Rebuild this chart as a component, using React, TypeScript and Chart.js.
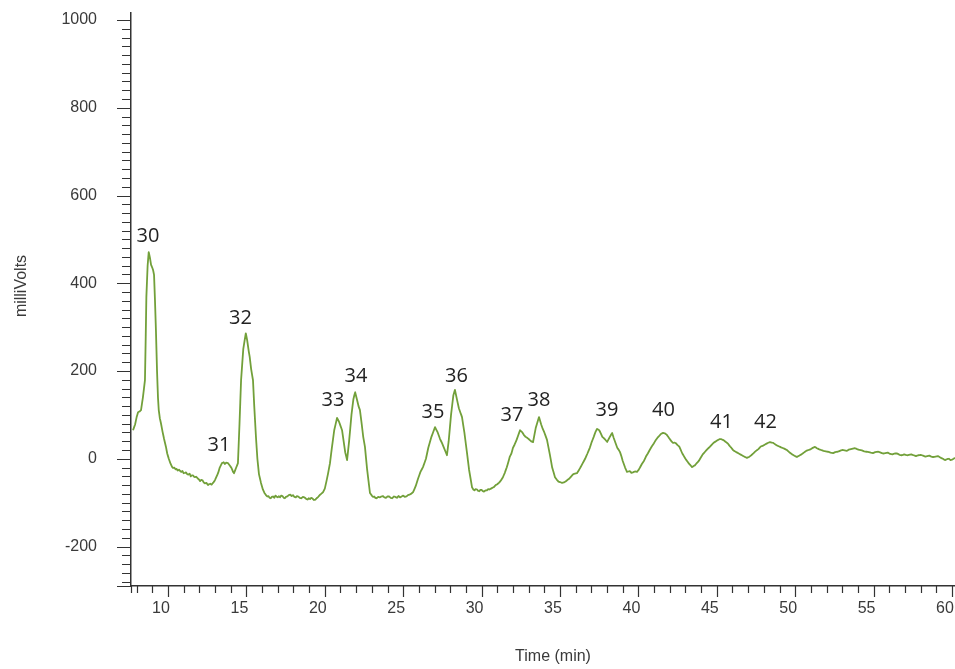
import React, { useEffect, useRef } from "react";
import { Chart, registerables } from "chart.js";

Chart.register(...registerables);

// Retention time (min)
const times: number[] = [
  7.77, 7.9, 8.0, 8.09, 8.2, 8.28, 8.4, 8.53, 8.58, 8.62,
  8.7, 8.77, 8.85, 8.92, 8.98, 9.05, 9.11, 9.17, 9.23, 9.3,
  9.36, 9.41, 9.48, 9.55, 9.65, 9.75, 9.87, 9.95, 10.05, 10.15,
  10.25, 10.32, 10.4, 10.48, 10.55, 10.62, 10.7, 10.78, 10.85, 10.92,
  11.0, 11.08, 11.15, 11.22, 11.3, 11.38, 11.45, 11.52, 11.6, 11.66,
  11.72, 11.8, 11.9, 11.97, 12.05, 12.12, 12.2, 12.28, 12.35, 12.45,
  12.55, 12.62, 12.7, 12.78, 12.87, 12.94, 13.0, 13.1, 13.19, 13.3,
  13.44, 13.55, 13.63, 13.7, 13.83, 13.95, 14.05, 14.15, 14.21, 14.35,
  14.46, 14.56, 14.66, 14.8, 14.96, 15.05, 15.15, 15.21, 15.3, 15.42,
  15.5, 15.61, 15.7, 15.8, 15.93, 16.05, 16.15, 16.25, 16.33, 16.4,
  16.48, 16.55, 16.62, 16.7, 16.78, 16.85, 16.92, 17.0, 17.07, 17.14,
  17.22, 17.3, 17.38, 17.45, 17.52, 17.6, 17.7, 17.8, 17.88, 17.97,
  18.06, 18.15, 18.22, 18.3, 18.4, 18.5, 18.6, 18.7, 18.8, 18.9,
  18.98, 19.06, 19.13, 19.2, 19.3, 19.4, 19.48, 19.55, 19.62, 19.7,
  19.8, 19.89, 20.0, 20.1, 20.2, 20.33, 20.45, 20.6, 20.78, 20.9,
  21.0, 21.1, 21.2, 21.3, 21.42, 21.55, 21.7, 21.82, 21.93, 22.05,
  22.15, 22.24, 22.35, 22.45, 22.56, 22.7, 22.88, 23.0, 23.08, 23.15,
  23.22, 23.3, 23.4, 23.52, 23.6, 23.7, 23.8, 23.9, 24.0, 24.1,
  24.2, 24.3, 24.4, 24.5, 24.6, 24.7, 24.8, 24.9, 25.0, 25.1,
  25.2, 25.3, 25.4, 25.5, 25.63, 25.8, 25.95, 26.1, 26.26, 26.45,
  26.6, 26.8, 27.03, 27.2, 27.35, 27.47, 27.6, 27.79, 27.9, 28.05,
  28.2, 28.3, 28.4, 28.55, 28.65, 28.75, 28.9, 29.07, 29.2, 29.39,
  29.47, 29.55, 29.62, 29.7, 29.78, 29.85, 29.92, 30.0, 30.08, 30.15,
  30.25, 30.34, 30.42, 30.5, 30.6, 30.7, 30.8, 30.9, 31.0, 31.1,
  31.22, 31.36, 31.48, 31.6, 31.7, 31.8, 31.9, 32.0, 32.1, 32.2,
  32.32, 32.45, 32.6, 32.7, 32.8, 32.9, 33.0, 33.15, 33.28, 33.45,
  33.66, 33.8, 33.9, 34.0, 34.17, 34.35, 34.5, 34.68, 34.8, 34.9,
  35.0, 35.13, 35.25, 35.35, 35.48, 35.6, 35.72, 35.85, 35.95, 36.08,
  36.2, 36.3, 36.45, 36.6, 36.75, 36.9, 37.02, 37.15, 37.25, 37.36,
  37.5, 37.6, 37.7, 37.85, 38.0, 38.15, 38.32, 38.42, 38.5, 38.65,
  38.75, 38.83, 38.92, 39.0, 39.15, 39.27, 39.36, 39.45, 39.55, 39.65,
  39.78, 39.91, 40.0, 40.1, 40.22, 40.35, 40.48, 40.6, 40.72, 40.85,
  40.98, 41.1, 41.22, 41.35, 41.45, 41.57, 41.68, 41.8, 41.9, 42.0,
  42.1, 42.21, 42.3, 42.4, 42.5, 42.6, 42.7, 42.8, 42.9, 43.0,
  43.1, 43.2, 43.3, 43.42, 43.5, 43.6, 43.72, 43.85, 43.98, 44.1,
  44.25, 44.4, 44.55, 44.7, 44.82, 44.95, 45.08, 45.2, 45.32, 45.45,
  45.58, 45.7, 45.78, 45.85, 45.95, 46.03, 46.15, 46.3, 46.45, 46.6,
  46.75, 46.92, 47.05, 47.2, 47.35, 47.5, 47.65, 47.8, 47.95, 48.1,
  48.25, 48.39, 48.5, 48.6, 48.72, 48.85, 48.98, 49.1, 49.3, 49.47,
  49.62, 49.8, 49.95, 50.11, 50.25, 50.4, 50.55, 50.7, 50.85, 51.0,
  51.12, 51.26, 51.38, 51.5, 51.65, 51.8, 51.95, 52.1, 52.25, 52.42,
  52.55, 52.7, 52.85, 53.0, 53.15, 53.3, 53.42, 53.55, 53.68, 53.81,
  53.95, 54.1, 54.25, 54.4, 54.55, 54.7, 54.82, 54.96, 55.1, 55.3,
  55.45, 55.6, 55.75, 55.9, 56.05, 56.2, 56.35, 56.5, 56.65, 56.8,
  56.95, 57.13, 57.25, 57.4, 57.55, 57.7, 57.85, 58.0, 58.15, 58.3,
  58.42, 58.55, 58.68, 58.79, 58.95, 59.1, 59.2, 59.3, 59.42, 59.55,
  59.68, 59.8, 59.9, 60.0, 60.1, 60.19,
];

// Detector signal (milliVolts)
const signal: number[] = [
  65, 78, 95, 106, 108, 111, 140, 179, 280, 369,
  440, 471, 458, 442, 437, 430, 419, 360, 293, 200,
  140, 111, 92, 81, 62, 45, 27, 12, 0, -10,
  -18, -21, -20, -24, -23, -27, -25, -28, -30, -28,
  -33, -32, -31, -35, -36, -34, -40, -38, -38, -41,
  -42, -41, -45, -47, -51, -48, -49, -54, -56, -55,
  -60, -58, -57, -59, -55, -52, -48, -40, -33, -20,
  -10, -8, -12, -9, -10, -16, -21, -30, -33, -20,
  -10, 80, 179, 250, 286, 270, 245, 232, 205, 179,
  120, 49, 0, -35, -55, -70, -78, -83, -86, -85,
  -89, -90, -87, -86, -89, -84, -86, -88, -85, -88,
  -84, -85, -89, -90, -87, -86, -83, -82, -85, -83,
  -87, -88, -85, -86, -89, -90, -87, -88, -91, -93,
  -90, -92, -89, -90, -94, -93, -90, -88, -85, -82,
  -79, -76, -68, -52, -35, -10, 25, 65, 93, 85,
  75, 65, 40, 15, -3, 40, 100, 135, 152, 135,
  120, 111, 80, 50, 27, -25, -78, -84, -87, -86,
  -89, -90, -87, -88, -86, -85, -88, -89, -86, -86,
  -89, -90, -86, -87, -89, -85, -88, -86, -84, -87,
  -86, -83, -82, -80, -76, -62, -45, -30, -19, 0,
  25, 50, 72, 60, 45, 36, 25, 8, 40, 100,
  145, 157, 140, 115, 105, 95, 60, 13, -25, -65,
  -70, -72, -69, -70, -73, -74, -71, -71, -74, -75,
  -72, -72, -69, -70, -68, -66, -64, -60, -58, -55,
  -50, -42, -32, -20, -8, 5, 12, 25, 32, 40,
  52, 65, 60, 54, 50, 48, 45, 40, 38, 70,
  95, 78, 68, 60, 43, 10, -20, -42, -48, -52,
  -53, -55, -54, -52, -48, -45, -40, -35, -34, -33,
  -26, -20, -10, 0, 12, 25, 38, 50, 60, 68,
  65, 58, 50, 45, 38, 48, 59, 48, 40, 25,
  20, 15, 5, -5, -20, -30, -29, -28, -32, -31,
  -29, -30, -26, -20, -12, -5, 5, 12, 20, 28,
  35, 42, 48, 53, 57, 59, 58, 55, 50, 45,
  40, 36, 37, 35, 31, 28, 20, 12, 6, 0,
  -5, -10, -14, -19, -17, -15, -10, -5, 3, 10,
  16, 22, 27, 33, 37, 40, 43, 45, 44, 42,
  38, 35, 31, 28, 24, 20, 17, 14, 11, 8,
  5, 2, 4, 8, 13, 18, 22, 28, 30, 33,
  36, 38, 37, 36, 33, 30, 28, 26, 23, 20,
  15, 10, 7, 4, 7, 10, 14, 18, 20, 22,
  25, 27, 24, 22, 20, 18, 17, 16, 14, 13,
  15, 16, 18, 20, 19, 18, 21, 22, 23, 24,
  22, 20, 19, 17, 16, 15, 14, 13, 15, 16,
  14, 12, 13, 14, 11, 10, 12, 12, 9, 8,
  10, 8, 9, 10, 8, 6, 8, 9, 7, 5,
  6, 7, 5, 4, 5, 6, 4, 2, 0, -3,
  -1, 0, -3, -2, 0, 2,
];

// Peak numbers and where their labels sit (data coordinates)
const peakLabels: string[] = ["30", "31", "32", "33", "34", "35", "36", "37", "38", "39", "40", "41", "42"];
const peakLabelTimes: number[] = [8.72, 13.25, 14.62, 20.52, 21.99, 26.9, 28.4, 31.94, 33.66, 38.0, 41.6, 45.3, 48.1];
const peakLabelValues: number[] = [507, 30, 320, 134, 188, 107, 188, 100, 134, 110, 110, 82, 82];

// Axis ticks
const xMajorTicks: number[] = [10, 15, 20, 25, 30, 35, 40, 45, 50, 55, 60];
const yMajorTicks: number[] = [-200, 0, 200, 400, 600, 800, 1000];
const xMinorStep = 1;
const yMinorStep = 20;
const xMin = 7.64;
const xMax = 60.19;
const yMin = -290;
const yMax = 1016;

const xTitle = "Time (min)";
const yTitle = "milliVolts";

const LINE_COLOR = "#72a03a";
const AXIS_COLOR = "#333333";
const TEXT_COLOR = "#3a3a3a";
const FONT = "'Liberation Sans', Arial, sans-serif";

export default function App() {
  const canvasRef = useRef<HTMLCanvasElement | null>(null);

  useEffect(() => {
    const canvas = canvasRef.current;
    if (!canvas) return;

    const tickPlugin = {
      id: "tickMarks",
      afterDraw(chart: any) {
        const { ctx } = chart;
        const xs = chart.scales.x;
        const ys = chart.scales.y;
        const area = chart.chartArea;
        ctx.save();
        ctx.strokeStyle = AXIS_COLOR;
        ctx.lineWidth = 1.2;
        ctx.beginPath();
        for (let v = Math.ceil(yMin / yMinorStep) * yMinorStep; v <= yMax; v += yMinorStep) {
          const py = Math.round(ys.getPixelForValue(v)) + 0.5;
          const major = yMajorTicks.includes(v);
          ctx.moveTo(area.left - (major ? 14 : 9), py);
          ctx.lineTo(area.left, py);
        }
        // closing tick at the foot of the y axis
        ctx.moveTo(area.left - 14, area.bottom + 0.5);
        ctx.lineTo(area.left, area.bottom + 0.5);
        for (let v = Math.ceil(xMin / xMinorStep) * xMinorStep; v <= xMax; v += xMinorStep) {
          const px = Math.round(xs.getPixelForValue(v)) + 0.5;
          const major = xMajorTicks.includes(v);
          ctx.moveTo(px, area.bottom);
          ctx.lineTo(px, area.bottom + (major ? 11 : 7));
        }
        ctx.moveTo(area.left + 0.5, area.bottom);
        ctx.lineTo(area.left + 0.5, area.bottom + 7);
        ctx.stroke();

        // axis titles
        ctx.fillStyle = TEXT_COLOR;
        ctx.font = `16px ${FONT}`;
        ctx.textAlign = "center";
        ctx.textBaseline = "middle";
        ctx.fillText(xTitle, 553, 657);
        ctx.save();
        ctx.translate(22, 286);
        ctx.rotate(-Math.PI / 2);
        ctx.fillText(yTitle, 0, 0);
        ctx.restore();

        // peak labels
        ctx.fillStyle = "#222222";
        ctx.font = "20px 'Open Sans', 'Noto Sans', sans-serif";
        ctx.textAlign = "center";
        ctx.textBaseline = "middle";
        peakLabels.forEach((lab, i) => {
          ctx.fillText(lab, xs.getPixelForValue(peakLabelTimes[i]), ys.getPixelForValue(peakLabelValues[i]));
        });
        ctx.restore();
      },
    };

    const chart = new Chart(canvas, {
      type: "line",
      data: {
        datasets: [
          {
            data: times.map((t, i) => ({ x: t, y: signal[i] })),
            borderColor: LINE_COLOR,
            borderWidth: 1.8,
            borderJoinStyle: "round",
            pointRadius: 0,
            tension: 0.0001,
            fill: false,
          },
        ],
      },
      options: {
        animation: false,
        responsive: false,
        devicePixelRatio: 1,
        layout: { padding: { left: 0, right: 0, top: 13, bottom: 0 } },
        plugins: {
          legend: { display: false },
          tooltip: { enabled: false },
        },
        scales: {
          x: {
            type: "linear",
            min: xMin,
            max: xMax,
            afterBuildTicks: (scale: any) => {
              scale.ticks = xMajorTicks.map((v) => ({ value: v }));
            },
            afterFit: (scale: any) => {
              scale.height = 83;
              scale.paddingLeft = 0;
              scale.paddingRight = 0;
            },
            ticks: {
              color: TEXT_COLOR,
              font: { family: FONT, size: 16 },
              padding: 13,
              labelOffset: -7,
              maxRotation: 0,
              autoSkip: false,
              callback: (v: any) => String(v),
            },
            grid: { display: true, drawOnChartArea: false, drawTicks: false },
            border: { display: true, color: AXIS_COLOR, width: 1.5 },
            title: { display: false },
          },
          y: {
            type: "linear",
            min: yMin,
            max: yMax,
            afterBuildTicks: (scale: any) => {
              scale.ticks = yMajorTicks.map((v) => ({ value: v }));
            },
            afterFit: (scale: any) => {
              scale.width = 131;
              scale.paddingTop = 0;
              scale.paddingBottom = 0;
            },
            ticks: {
              color: TEXT_COLOR,
              font: { family: FONT, size: 16 },
              padding: 34,
              autoSkip: false,
              callback: (v: any) => String(v),
            },
            grid: { display: true, drawOnChartArea: false, drawTicks: false },
            border: { display: true, color: AXIS_COLOR, width: 1.5 },
            title: { display: false },
          },
        },
      },
      plugins: [tickPlugin],
    });

    return () => chart.destroy();
  }, []);

  return (
    <div style={{ position: "absolute", left: 0, top: 0, width: 955, height: 669, background: "#ffffff" }}>
      <canvas ref={canvasRef} width={955} height={669} style={{ display: "block" }} />
    </div>
  );
}
